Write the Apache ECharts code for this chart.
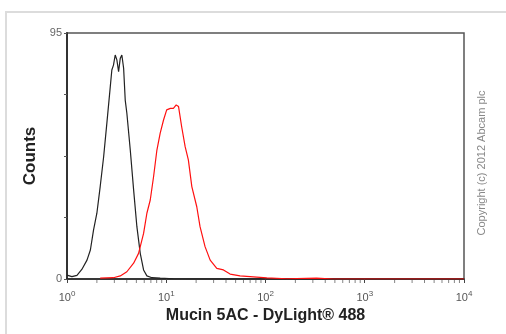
<!DOCTYPE html>
<html><head><meta charset="utf-8">
<script src="https://cdn.jsdelivr.net/npm/echarts@6/dist/echarts.min.js"></script>
<style>html,body{margin:0;padding:0;background:#fff}#c{width:506px;height:334px}</style>
</head><body><div id="c"></div>
<script>
const xTitle = 'Mucin 5AC - DyLight® 488';
const yTitle = 'Counts';
const copyright = 'Copyright (c) 2012 Abcam plc';
const xMin = 1, xMax = 10000;
const yMin = 0, yMax = 95;
const yLabelValues = [0, 95];
const minorTickValues = [2,3,4,5,6,7,8,9,20,30,40,50,60,70,80,90,200,300,400,500,600,700,800,900,2000,3000,4000,5000,6000,7000,8000,9000];

const blackX = [1.0,1.12,1.26,1.41,1.59,1.72,1.85,2.0,2.16,2.34,2.52,2.73,2.83,2.94,3.06,3.18,3.31,3.44,3.57,3.72,3.86,4.01,4.34,4.69,5.06,5.47,5.91,6.38,7.17,8.69,11.8,16.1,30,100,1000,10000];
const blackY = [1.5,0.9,1.4,3.7,7.3,11.2,18.9,25.4,35.7,47.2,60.1,74.3,80.7,82.6,86.5,84.6,80.1,85.2,86.5,81.4,69.1,64.0,49.8,34.4,20.2,9.9,3.5,1.2,0.5,0.3,0.1,0,0,0,0,0];

const redX = [2.16,2.94,3.44,4.01,4.69,5.26,5.91,6.38,6.9,7.45,8.05,8.69,9.39,10.1,11.0,11.8,12.6,13.3,14.3,15.5,16.7,18.1,20.3,21.9,24.6,27.7,32.3,37.7,44.0,55.4,75.5,103,163,327,480,1000,10000];
const redY = [0.3,0.5,1.2,2.8,6.1,9.9,17.6,25.4,30.5,39.5,49.8,56.3,61.4,65.3,65.9,65.9,67.2,66.6,58.8,51.1,46.0,35.7,27.9,20.2,12.5,7.3,4.1,3.5,1.9,1.2,0.8,0.4,0.1,0.3,0,0,0];

const pairs = (xs, ys) => xs.map((x, i) => [x, ys[i]]);

const chart = echarts.init(document.getElementById('c'));
chart.setOption({
  animation: false,
  grid: { left: 67, right: 42, top: 33, bottom: 55, show: true, borderColor: '#555', borderWidth: 1.5 },
  xAxis: {
    type: 'log', logBase: 10, min: xMin, max: xMax,
    name: xTitle, nameLocation: 'middle', nameGap: 28,
    nameTextStyle: { fontFamily: 'Liberation Sans', fontWeight: 'bold', fontSize: 16, color: '#222' },
    axisLine: { lineStyle: { color: '#222', width: 1.5 } },
    axisTick: { show: true, length: 4, lineStyle: { color: '#444' } },
    splitLine: { show: false },
    axisLabel: {
      margin: 11,
      formatter: v => '{b|10}{s|' + Math.round(Math.log10(v)) + '}',
      rich: {
        b: { fontFamily: 'Liberation Sans', fontSize: 11, color: '#555' },
        s: { fontFamily: 'Liberation Sans', fontSize: 8, color: '#555', padding: [0, 0, 7, 0] }
      }
    }
  },
  yAxis: {
    type: 'value', min: yMin, max: yMax, interval: yMax / 4,
    name: yTitle, nameLocation: 'middle', nameGap: 25,
    nameTextStyle: { fontFamily: 'Liberation Sans', fontWeight: 'bold', fontSize: 17, color: '#222' },
    axisLine: { show: true, lineStyle: { color: '#333', width: 2 } },
    axisTick: { show: true, length: 3, lineStyle: { color: '#555' } },
    splitLine: { show: false },
    axisLabel: {
      margin: 5, fontFamily: 'Liberation Sans', fontSize: 11, color: '#666',
      formatter: v => (yLabelValues.some(t => Math.abs(t - v) < 1e-6) ? String(v) : '')
    }
  },
  graphic: [
    { type: 'rect', shape: { x: 6, y: 12, width: 520, height: 340 }, style: { fill: 'none', stroke: '#dcdcdc', lineWidth: 2 }, z: -10 },
    { type: 'text', x: 482, y: 163, rotation: Math.PI / 2,
      style: { text: copyright, fontFamily: 'Liberation Sans', fontSize: 11, fill: '#888', align: 'center', verticalAlign: 'middle' } }
  ],
  series: [
    { type: 'scatter', data: minorTickValues.map(v => [v, yMin]), symbol: 'rect', symbolSize: [1, 3],
      symbolOffset: [0, 2.5], itemStyle: { color: '#666' }, clip: false, silent: true, z: 1 },
    { type: 'line', data: pairs(blackX, blackY), showSymbol: false, symbol: 'none', lineStyle: { color: '#222', width: 1.2 }, z: 3 },
    { type: 'line', data: pairs(redX, redY), showSymbol: false, symbol: 'none', lineStyle: { color: '#ff1010', width: 1.2 }, z: 4 }
  ]
});
</script></body></html>
